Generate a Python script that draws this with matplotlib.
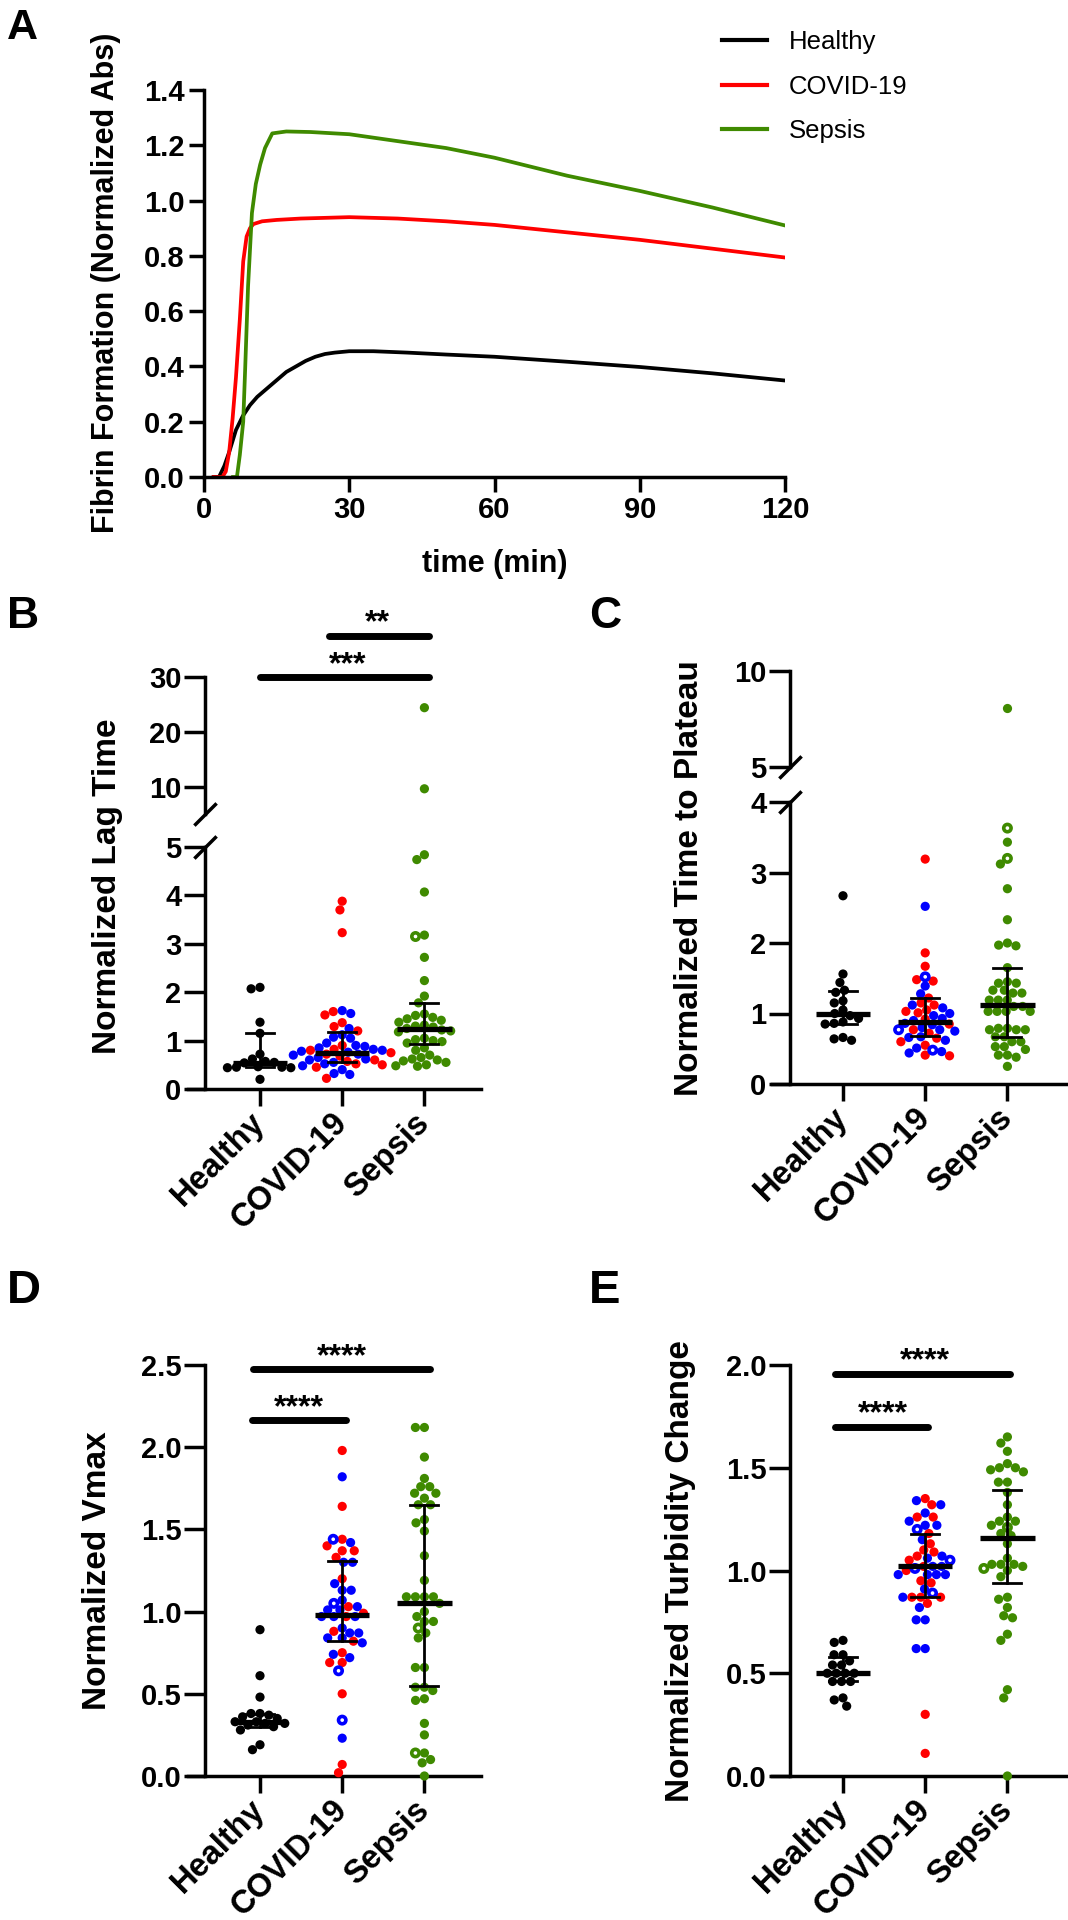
import matplotlib.pyplot as plt
import numpy as np
from matplotlib.lines import Line2D
from matplotlib.ticker import FormatStrFormatter

W, H = 1068, 1920
STEP = 82.2  # px between group centres in the dot plots

plt.rcParams['font.family'] = ['Liberation Sans', 'DejaVu Sans']
plt.rcParams['font.weight'] = 'bold'
plt.rcParams['axes.labelweight'] = 'bold'
plt.rcParams['axes.linewidth'] = 2.5

BLACK, RED, BLUE, GREEN = '#000000', '#ff0000', '#0000ff', '#3f8a00'
groups = ['Healthy', 'COVID-19', 'Sepsis']

# ---- A: turbidity curves
t_healthy = [2, 3.1, 4.2, 5.2, 6.6, 8.0, 9.5, 11, 13, 15, 17, 19, 21, 23, 25, 27, 30, 35, 42, 50, 60, 75, 90, 105, 120]
v_healthy = [0, 0, 0.04, 0.09, 0.17, 0.22, 0.26, 0.29, 0.32, 0.35, 0.38, 0.40, 0.42, 0.435, 0.445, 0.45, 0.455,
             0.455, 0.45, 0.443, 0.435, 0.417, 0.398, 0.375, 0.349]
t_covid = [2, 3.8, 4.5, 5.2, 5.9, 6.6, 7.4, 8.1, 8.8, 9.5, 10.2, 12, 15, 20, 30, 40, 50, 60, 75, 90, 105, 120]
v_covid = [0, 0, 0.02, 0.09, 0.21, 0.36, 0.57, 0.78, 0.87, 0.90, 0.915, 0.925, 0.93, 0.935, 0.94, 0.935,
           0.925, 0.912, 0.885, 0.858, 0.826, 0.794]
t_sepsis = [6.0, 6.8, 7.4, 8.1, 8.5, 9.1, 9.9, 10.7, 11.6, 12.6, 14.1, 17, 22, 30, 42, 50, 60, 75, 90, 105, 120]
v_sepsis = [0, 0, 0.08, 0.20, 0.39, 0.69, 0.955, 1.06, 1.13, 1.19, 1.243, 1.25, 1.248, 1.24, 1.21, 1.19,
            1.155, 1.09, 1.035, 0.975, 0.91]

# ---- B: normalized lag time
b_healthy = [2.10, 2.07, 1.38, 1.15, 0.72, 0.62, 0.57, 0.55, 0.54, 0.46, 0.45, 0.45, 0.44, 0.44, 0.20]
b_covid_red = [3.88, 3.70, 3.23, 1.60, 1.53, 1.37, 1.29, 1.20, 0.90, 0.82, 0.80, 0.75, 0.72, 0.68, 0.60,
               0.57, 0.52, 0.50, 0.45, 0.22]
b_covid_blue = [1.62, 1.56, 1.25, 1.12, 1.07, 1.05, 0.95, 0.90, 0.88, 0.85, 0.82, 0.80, 0.78, 0.76, 0.72,
                0.70, 0.65, 0.62, 0.60, 0.55, 0.52, 0.48, 0.40, 0.32, 0.30]
b_sepsis = [24.4, 9.6, 4.84, 4.74, 4.07, 3.18, 2.72, 2.24, 1.92, 1.78, 1.55, 1.52, 1.48, 1.45, 1.42, 1.38,
            1.32, 1.30, 1.28, 1.25, 1.22, 1.20, 1.18, 1.05, 1.02, 1.00, 0.98, 0.95, 0.85, 0.80, 0.70, 0.65,
            0.62, 0.60, 0.58, 0.55, 0.50, 0.48, 0.47]
b_sepsis_open = [3.17]
b_median, b_q1, b_q3 = [0.54, 0.75, 1.25], [0.45, 0.55, 0.92], [1.15, 1.17, 1.77]

# ---- C: normalized time to plateau
c_healthy = [2.67, 1.56, 1.44, 1.33, 1.30, 1.18, 1.15, 1.05, 1.00, 0.97, 0.93, 0.88, 0.86, 0.85, 0.66, 0.64, 0.62]
c_covid_red = [3.19, 1.86, 1.67, 1.48, 1.46, 1.22, 1.15, 1.12, 1.05, 1.03, 1.01, 0.92, 0.85, 0.77, 0.72,
               0.65, 0.60, 0.55, 0.41, 0.40]
c_covid_blue = [2.52, 1.39, 1.28, 1.12, 1.08, 1.00, 0.97, 0.93, 0.90, 0.86, 0.84, 0.80, 0.77, 0.75, 0.67,
                0.66, 0.62, 0.51, 0.46, 0.44]
c_covid_blue_open = [1.52, 0.77, 0.48]
c_sepsis = [8.06, 3.43, 3.12, 2.77, 2.33, 2.00, 1.97, 1.96, 1.65, 1.45, 1.43, 1.43, 1.33, 1.33, 1.29, 1.29,
            1.19, 1.19, 1.19, 1.10, 1.10, 1.03, 1.03, 1.03, 1.03, 0.79, 0.79, 0.77, 0.77, 0.77, 0.67, 0.67,
            0.60, 0.60, 0.53, 0.53, 0.49, 0.41, 0.41, 0.38, 0.25]
c_sepsis_open = [3.63, 3.20]
c_median, c_q1, c_q3 = [1.00, 0.88, 1.12], [0.855, 0.68, 0.66], [1.315, 1.22, 1.64]

# ---- D: normalized Vmax
d_healthy = [0.89, 0.61, 0.48, 0.38, 0.38, 0.37, 0.36, 0.35, 0.33, 0.33, 0.32, 0.32, 0.31, 0.30, 0.28, 0.19, 0.16]
d_covid_red = [1.98, 1.64, 1.44, 1.40, 1.37, 1.37, 1.33, 1.20, 1.03, 0.99, 0.97, 0.88, 0.82, 0.75, 0.69,
               0.69, 0.50, 0.07, 0.02]
d_covid_blue = [1.82, 1.42, 1.30, 1.30, 1.17, 1.13, 1.13, 1.07, 1.03, 1.01, 1.01, 0.97, 0.97, 0.97, 0.90,
                0.87, 0.87, 0.84, 0.84, 0.81, 0.74, 0.72, 0.23]
d_covid_blue_open = [1.44, 1.05, 0.64, 0.34]
d_sepsis = [2.12, 2.12, 1.94, 1.81, 1.76, 1.76, 1.72, 1.72, 1.69, 1.65, 1.65, 1.56, 1.54, 1.49, 1.34, 1.19,
            1.09, 1.09, 1.09, 1.09, 1.05, 1.00, 0.97, 0.94, 0.94, 0.87, 0.84, 0.66, 0.66, 0.54, 0.54, 0.52,
            0.47, 0.46, 0.32, 0.25, 0.14, 0.10, 0.08, 0.0]
d_sepsis_open = [0.90, 0.14]
d_median, d_q1, d_q3 = [0.33, 0.98, 1.05], [0.30, 0.82, 0.545], [0.38, 1.31, 1.65]

# ---- E: normalized turbidity change
e_healthy = [0.66, 0.65, 0.59, 0.59, 0.56, 0.54, 0.54, 0.50, 0.50, 0.50, 0.50, 0.46, 0.46, 0.46, 0.38, 0.37, 0.34]
e_covid_red = [1.35, 1.32, 1.26, 1.26, 1.18, 1.13, 1.10, 1.09, 1.07, 1.05, 1.02, 1.00, 0.95, 0.94, 0.87,
               0.87, 0.87, 0.84, 0.30, 0.11]
e_covid_blue = [1.34, 1.32, 1.28, 1.24, 1.22, 1.22, 1.15, 1.07, 1.06, 1.02, 1.02, 0.98, 0.98, 0.98, 0.98,
                0.91, 0.87, 0.82, 0.76, 0.76, 0.62, 0.62]
e_covid_blue_open = [1.20, 1.05, 1.01, 0.89]
e_sepsis = [1.65, 1.62, 1.58, 1.52, 1.50, 1.50, 1.49, 1.48, 1.43, 1.43, 1.38, 1.32, 1.26, 1.24, 1.24, 1.22,
            1.18, 1.17, 1.13, 1.06, 1.03, 1.03, 1.03, 1.02, 1.00, 0.97, 0.87, 0.86, 0.82, 0.78, 0.77, 0.69,
            0.66, 0.42, 0.38, 0.0]
e_sepsis_open = [1.21, 1.01]
e_median, e_q1, e_q3 = [0.50, 1.02, 1.16], [0.46, 0.87, 0.94], [0.58, 1.18, 1.39]


fig = plt.figure(figsize=(W / 100, H / 100), dpi=100)


def px_axes(left, top, right, bottom):
    return fig.add_axes([left / W, 1 - bottom / H, (right - left) / W, (bottom - top) / H])


def swarm_offsets(values, y_ppu, diam=9.0):
    # simple beeswarm in pixel space, returned in data units
    vals = np.asarray(values, float)
    ys = vals * y_ppu
    px, py = [], []
    offs = np.zeros(len(vals))
    for i in np.argsort(-vals, kind='stable'):
        y = ys[i]
        cands = [0.0]
        for x0, y0 in zip(px, py):
            dy = y - y0
            if abs(dy) < diam:
                dx = np.sqrt(diam ** 2 - dy ** 2)
                cands += [x0 - dx, x0 + dx]
        cands.sort(key=lambda c: (abs(c), c))
        for c in cands:
            if all((c - x0) ** 2 + (y - y0) ** 2 >= diam ** 2 - 1e-6 for x0, y0 in zip(px, py)):
                break
        offs[i] = c
        px.append(c)
        py.append(y)
    return offs / STEP


def dot_axes(left, right, cat0, spine, top, bottom, ylim, yticks, fmt=None, show_x=True):
    ax = px_axes(left, top, right, bottom)
    ax.set_xlim((left - cat0) / STEP, (right - cat0) / STEP)
    ax.set_ylim(*ylim)
    ax.patch.set_alpha(0)
    for s in ('top', 'right'):
        ax.spines[s].set_visible(False)
    ax.spines['left'].set_position(('data', (spine - cat0) / STEP))
    ax.set_yticks(yticks)
    if fmt:
        ax.yaxis.set_major_formatter(FormatStrFormatter(fmt))
    ax.tick_params(axis='y', length=15, width=2.5, pad=2, labelsize=21)
    if show_x:
        ax.set_xticks(range(3), labels=groups, rotation=45, ha='right', va='center',
                      rotation_mode='anchor', fontsize=23.5)
        ax.tick_params(axis='x', length=12, width=2.5, pad=9)
    else:
        ax.spines['bottom'].set_visible(False)
        ax.set_xticks([])
    ax.y_ppu = (bottom - top) / (ylim[1] - ylim[0])
    return ax


def draw_dots(ax, cat, sets, lo, hi):
    # sets: list of (values, colour, hollow)
    vals, cols, hollow = [], [], []
    for v, c, h in sets:
        for x in v:
            if lo <= x <= hi:
                vals.append(x)
                cols.append(c)
                hollow.append(h)
    if not vals:
        return
    offs = swarm_offsets(vals, ax.y_ppu)
    vals, cols, hollow = np.array(vals), np.array(cols), np.array(hollow)
    s = ~hollow
    ax.scatter(cat + offs[s], vals[s], s=44, c=cols[s], linewidths=0, zorder=3, clip_on=False)
    if hollow.any():
        ax.scatter(cat + offs[hollow], vals[hollow], s=28, facecolors='white', edgecolors=cols[hollow],
                   linewidths=2.6, zorder=3, clip_on=False)


def draw_summary(ax, med, q1, q3):
    for i in range(3):
        ax.plot([i - 0.33, i + 0.33], [med[i]] * 2, color='k', lw=3.8, solid_capstyle='butt', zorder=4)
        ax.plot([i, i], [q1[i], q3[i]], color='k', lw=2.0, zorder=4)
        for q in (q1[i], q3[i]):
            ax.plot([i - 0.17, i + 0.17], [q, q], color='k', lw=2.0, zorder=4)


def sig_bar(ax, x0, x1, y, stars, xt):
    ax.plot([x0, x1], [y, y], color='k', lw=5, solid_capstyle='round', clip_on=False)
    ax.annotate(stars, (xt, y), xytext=(0, 3), textcoords='offset points', ha='center',
                va='baseline', fontsize=23, annotation_clip=False)


def break_mark(ax, y):
    x = ax.spines['left'].get_position()[1]
    ax.plot([x], [y], marker=[(-1, -1), (1, 1)], markersize=16, mew=2.5, color='k', clip_on=False)


def panel_sets(healthy, red, blue, sepsis, blue_open=(), sepsis_open=()):
    return [
        [(healthy, BLACK, False)],
        [(red, RED, False), (blue, BLUE, False), (blue_open, BLUE, True)],
        [(sepsis, GREEN, False), (sepsis_open, GREEN, True)],
    ]


# ---------------- A
axA = px_axes(204, 90, 785, 477)
axA.plot(t_healthy, v_healthy, color=BLACK, lw=2.7, label='Healthy')
axA.plot(t_covid, v_covid, color=RED, lw=2.7, label='COVID-19')
axA.plot(t_sepsis, v_sepsis, color=GREEN, lw=2.7, label='Sepsis')
axA.set_xlim(0, 120)
axA.set_ylim(0, 1.4)
axA.set_xticks([0, 30, 60, 90, 120])
axA.set_yticks(np.arange(0, 1.41, 0.2))
axA.yaxis.set_major_formatter(FormatStrFormatter('%.1f'))
axA.tick_params(length=11, width=2.5, pad=3, labelsize=21)
for s in ('top', 'right'):
    axA.spines[s].set_visible(False)
axA.set_xlabel('time (min)', fontsize=22, labelpad=18)
fig.text(106 / W, 1 - 283 / H, 'Fibrin Formation (Normalized Abs)', rotation=90, ha='center',
         va='center', fontsize=22)
handles = [Line2D([], [], color=c, lw=3) for c in (BLACK, RED, GREEN)]
fig.legend(handles, groups, loc='upper left', bbox_to_anchor=(722 / W, 1 - 30 / H), frameon=False,
           prop={'weight': 'normal', 'size': 18.5}, handlelength=1.75, handletextpad=0.85,
           labelspacing=0.8, borderpad=0, borderaxespad=0)

# ---------------- B (broken axis)
b_sets = panel_sets(b_healthy, b_covid_red, b_covid_blue, b_sepsis, sepsis_open=b_sepsis_open)
axB = dot_axes(188, 481, 260, 205, 847, 1089, (0, 5), range(6))
axBu = dot_axes(188, 481, 260, 205, 677, 814, (5, 30), [10, 20, 30], show_x=False)
for i, sets in enumerate(b_sets):
    draw_dots(axB, i, sets, 0, 5)
    draw_dots(axBu, i, sets, 5.0001, 30)
draw_summary(axB, b_median, b_q1, b_q3)
break_mark(axB, 5)
break_mark(axBu, 5)
sig_bar(axBu, 0.0, 2.05, 30.0, '***', 1.07)
sig_bar(axBu, 0.84, 2.05, 37.5, '**', 1.43)
fig.text(108 / W, 1 - 886 / H, 'Normalized Lag Time', rotation=90, ha='center', va='center', fontsize=24)

# ---------------- C (broken axis)
c_sets = panel_sets(c_healthy, c_covid_red, c_covid_blue, c_sepsis, c_covid_blue_open, c_sepsis_open)
axC = dot_axes(772, 1066, 843, 790, 802, 1084, (0, 4), range(5))
axCu = dot_axes(772, 1066, 843, 790, 671, 767, (5, 10), [5, 10], show_x=False)
for i, sets in enumerate(c_sets):
    draw_dots(axC, i, sets, 0, 4)
    draw_dots(axCu, i, sets, 4.0001, 10)
draw_summary(axC, c_median, c_q1, c_q3)
break_mark(axC, 4)
break_mark(axCu, 5)
fig.text(689 / W, 1 - 878 / H, 'Normalized Time to Plateau', rotation=90, ha='center', va='center', fontsize=24)

# ---------------- D
d_sets = panel_sets(d_healthy, d_covid_red, d_covid_blue, d_sepsis, d_covid_blue_open, d_sepsis_open)
axD = dot_axes(188, 481, 260, 205, 1365, 1776, (0, 2.5), np.arange(0, 2.51, 0.5), fmt='%.1f')
for i, sets in enumerate(d_sets):
    draw_dots(axD, i, sets, 0, 2.5)
draw_summary(axD, d_median, d_q1, d_q3)
sig_bar(axD, -0.1, 1.05, 2.165, '****', 0.47)
sig_bar(axD, -0.09, 2.07, 2.475, '****', 1.0)
fig.text(98 / W, 1 - 1571 / H, 'Normalized Vmax', rotation=90, ha='center', va='center', fontsize=24)

# ---------------- E
e_sets = panel_sets(e_healthy, e_covid_red, e_covid_blue, e_sepsis, e_covid_blue_open, e_sepsis_open)
axE = dot_axes(772, 1066, 843, 790, 1365, 1776, (0, 2.0), np.arange(0, 2.01, 0.5), fmt='%.1f')
for i, sets in enumerate(e_sets):
    draw_dots(axE, i, sets, 0, 2.0)
draw_summary(axE, e_median, e_q1, e_q3)
sig_bar(axE, -0.1, 1.04, 1.70, '****', 0.48)
sig_bar(axE, -0.1, 2.03, 1.957, '****', 1.0)
fig.text(680 / W, 1 - 1571 / H, 'Normalized Turbidity Change', rotation=90, ha='center', va='center', fontsize=24)

# ---------------- panel letters
for letter, x, y, size in [('A', 7, 39, 31), ('B', 7, 628, 32), ('C', 589, 628, 32),
                           ('D', 7, 1303, 34), ('E', 589, 1303, 34)]:
    fig.text(x / W, 1 - y / H, letter, ha='left', va='baseline', fontsize=size)

fig.savefig('out.png', dpi=100)
